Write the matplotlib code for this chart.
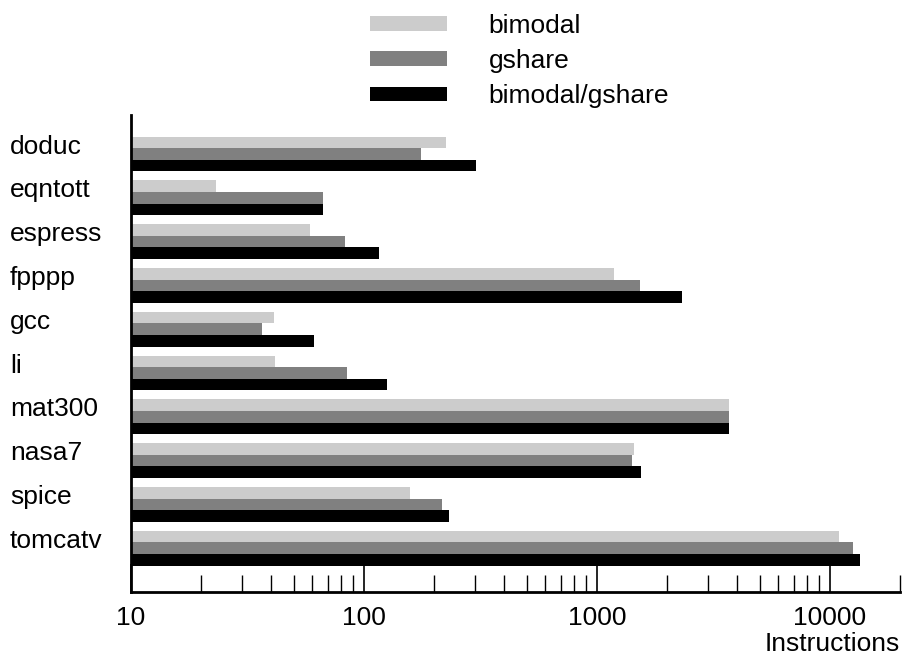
import numpy as np
import matplotlib
matplotlib.use("Agg")
import matplotlib.pyplot as plt
from matplotlib.patches import Patch
from matplotlib.ticker import LogLocator, FixedLocator, NullFormatter
import matplotlib.transforms as mtransforms

plt.rcParams['font.family'] = ['Liberation Sans', 'DejaVu Sans']

# data (instructions, log scale)
benchmarks = ['doduc', 'eqntott', 'espress', 'fpppp', 'gcc', 'li',
              'mat300', 'nasa7', 'spice', 'tomcatv']
bimodal = [225, 23.2, 58.6, 1183, 41.1, 41.5, 3690, 1442, 157, 10940]
gshare = [176, 67, 82.8, 1530, 36.5, 84.5, 3690, 1413, 216, 12560]
combined = [303, 67, 116, 2315, 61, 125.6, 3690, 1545, 232, 13460]
series_names = ['bimodal', 'gshare', 'bimodal/gshare']
colors = ['#cccccc', '#808080', '#000000']

fs = 19

fig = plt.figure(figsize=(9.04, 6.62), dpi=100)
ax = fig.add_axes([131/904, 70/662, (900-131)/904, (592-115)/662])

y = np.arange(len(benchmarks))
h = 0.265
for k, vals in enumerate([bimodal, gshare, combined]):
    ax.barh(y + (k - 1) * h, vals, height=h, left=0, color=colors[k],
            label=series_names[k], linewidth=0)

ax.set_xscale('log')
ax.set_xlim(10, 20000)
ax.set_ylim(10.0, -0.89)

for s in ['top', 'right']:
    ax.spines[s].set_visible(False)
ax.spines['left'].set_linewidth(2)
ax.spines['bottom'].set_linewidth(2)

ax.xaxis.set_major_locator(FixedLocator([10, 100, 1000, 10000]))
ax.xaxis.set_minor_locator(LogLocator(base=10, subs=np.arange(2, 10)))
ax.xaxis.set_minor_formatter(NullFormatter())
ax.set_xticks([10, 100, 1000, 10000])
ax.set_xticklabels(['10', '100', '1000', '10000'])
ax.tick_params(axis='x', which='major', direction='in', length=20, width=1.2,
               labelsize=fs, pad=10)
ax.tick_params(axis='x', which='minor', direction='in', length=12, width=1)
ax.set_yticks([])

# category labels, left aligned at the figure edge
trans = mtransforms.blended_transform_factory(fig.transFigure, ax.transData)
for i, name in enumerate(benchmarks):
    ax.text(10/904, i - 0.17, name, transform=trans, ha='left', va='center',
            fontsize=fs)

fig.text(900/904, 1 - 644/662, 'Instructions', ha='right', va='center',
         fontsize=fs)

handles = [Patch(facecolor=c, edgecolor='none') for c in colors]
fig.legend(handles, series_names, loc='upper left',
           bbox_to_anchor=(370/904, 1 - 14/662), frameon=False, fontsize=fs,
           handlelength=2.9, handleheight=0.47, handletextpad=1.6,
           labelspacing=0.42, borderpad=0, borderaxespad=0)

fig.savefig('out.png', dpi=100)
